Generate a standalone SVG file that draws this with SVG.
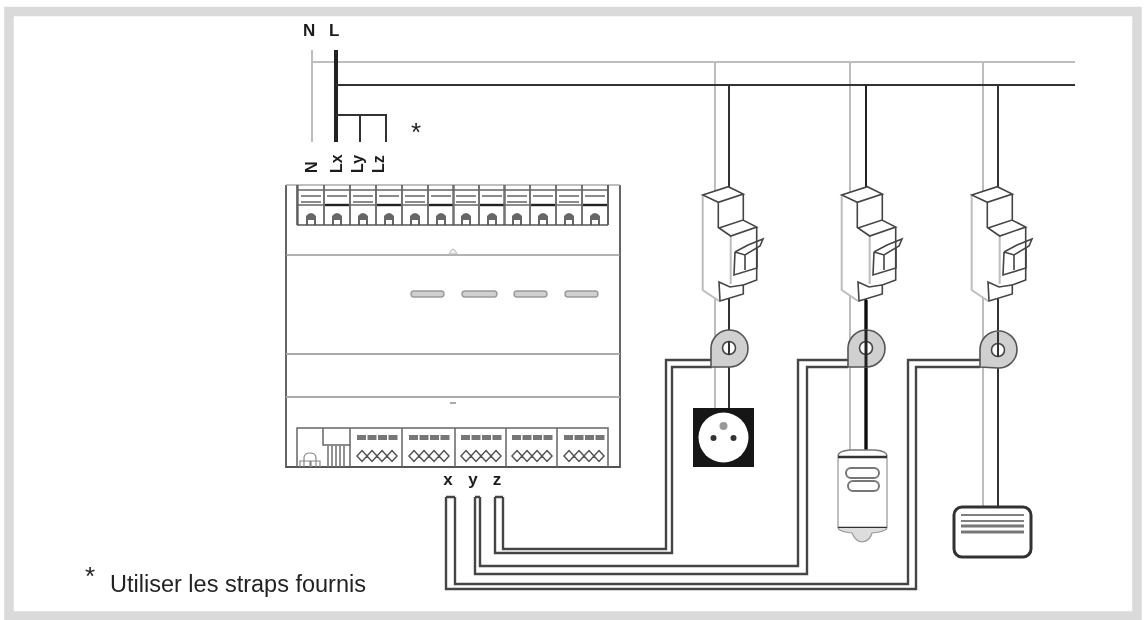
<svg xmlns="http://www.w3.org/2000/svg" xmlns:xlink="http://www.w3.org/1999/xlink" width="1146" height="620" viewBox="0 0 1146 620">
<style>
text{font-family:"Liberation Sans",Arial,sans-serif;fill:#222}
.b{font-weight:700;fill:#1a1a1a}
.g{fill:none;stroke:#bdbdbd;stroke-width:2}
.k{fill:none;stroke:#333;stroke-width:2}
.w{fill:none;stroke:#444;stroke-width:2.4}
.m{fill:none;stroke:#666;stroke-width:1.4}
.ml{fill:none;stroke:#999;stroke-width:1.6}
.d{fill:none;stroke:#444;stroke-width:1.6}
</style>
<defs>
<filter id="soft" filterUnits="userSpaceOnUse" x="0" y="0" width="1146" height="620"><feGaussianBlur stdDeviation="0.45"/></filter>
<g id="breaker">
<path d="M702.7 195L728.3 186.7L743.3 194V220L756.7 227V280L743.3 285V294L720 301L702.7 290Z" fill="#fff"/>
<path class="g" stroke-width="1.6" d="M702.7 195V290L719 301M730.7 236V284"/>
<path class="d" d="M702.7 195L728.3 186.7L743.3 194L718.3 202.3ZM718.3 202.3V228M743.3 194V220M719 228L743 220L756.7 227L730.7 236ZM756.7 227V280L743.3 285V294L720 301L719 282L730 287L743 285"/>
<path class="d" d="M735 252L748 245L763 239L760 246L745 255L735 252M735 252L734 275L757 268V248M745 255V270"/>
</g>
<g id="topcell">
<path class="m" d="M0 0V40M26 0V40M0 5H26M3 11H23M3 17H23M0 20H26"/>
<path d="M8 40V31Q13 25 18 31V40H16V35H10V40Z" fill="#666"/>
</g>
<g id="topcell2">
<path class="m" d="M0 0V40M26 0V40M0 5H26M3 11H23"/>
<path d="M1 20H25" stroke="#222" stroke-width="2.4"/>
<path d="M8 40V31Q13 25 18 31V40H16V35H10V40Z" fill="#666"/>
</g>
<g id="botcell">
<path d="M6 5.500H47" stroke="#777" stroke-width="5" stroke-dasharray="9 1.500"/>
<path class="m" d="M6 24H46"/>
<path d="M11 18.500L16 24L11 29.500L6 24ZM21 18.500L26 24L21 29.500L16 24ZM31 18.500L36 24L31 29.500L26 24ZM41 18.500L46 24L41 29.500L36 24Z" fill="#fff" stroke="#555" stroke-width="1.500"/>
</g>
</defs>
<rect width="1146" height="620" fill="#fff"/>
<g filter="url(#soft)">
<rect id="frame" x="9" y="11.500" width="1128" height="604.500" fill="none" stroke="#dadada" stroke-width="9.500"/>

<g id="connectors">
<path class="g" d="M312 50V142M312 62H1075M715 62V408M850 62V450M983 62V507"/>
<path d="M336 50V142" stroke="#222" stroke-width="4" fill="none"/>
<path class="k" d="M336 85H1075M336 115H386V142M360 115V142"/>
<path class="k" d="M729 85V408M998 85V507"/>
<path d="M866 85V450" fill="none" stroke="#222" stroke-width="2"/>
<path d="M866 300V450" fill="none" stroke="#111" stroke-width="3.400"/>
<path class="w" d="M503 497V549H666V360H712M495 497V553H672V367H712M495 497H503"/>
<path class="w" d="M480 497V566H798V360H848M475 497V574H807V367H848M475 497H480"/>
<path class="w" d="M455 497V584H908V360H980M446 497V589H916V367H980M446 497H455"/>
</g>

<g id="module">
<path d="M286 185V467H620V185" fill="#fff" stroke="#555" stroke-width="1.800"/>
<path d="M286 185H620" stroke="#aaa" stroke-width="1.500"/>
<path class="ml" d="M286 255H620"/>
<path d="M286 354H620M286 397H620" stroke="#aaa" stroke-width="2.200"/>
<path d="M449 254Q453 244 457 254Z" fill="#eee" stroke="#bbb"/>
<path d="M450 403H456" stroke="#aaa" stroke-width="2"/>
<g fill="#d0d0d0" stroke="#999" stroke-width="1.400">
<rect x="411" y="291" width="33" height="6" rx="3"/>
<rect x="462" y="291" width="35" height="6" rx="3"/>
<rect x="514" y="291" width="33" height="6" rx="3"/>
<rect x="565" y="291" width="33" height="6" rx="3"/>
</g>
<g id="terminals-top">
<use xlink:href="#topcell" href="#topcell" x="298" y="185"/>
<use xlink:href="#topcell2" href="#topcell2" x="324" y="185"/>
<use xlink:href="#topcell" href="#topcell" x="350" y="185"/>
<use xlink:href="#topcell2" href="#topcell2" x="376" y="185"/>
<use xlink:href="#topcell" href="#topcell" x="402" y="185"/>
<use xlink:href="#topcell2" href="#topcell2" x="428" y="185"/>
<use xlink:href="#topcell" href="#topcell" x="453" y="185"/>
<use xlink:href="#topcell2" href="#topcell2" x="479" y="185"/>
<use xlink:href="#topcell" href="#topcell" x="504" y="185"/>
<use xlink:href="#topcell2" href="#topcell2" x="530" y="185"/>
<use xlink:href="#topcell" href="#topcell" x="556" y="185"/>
<use xlink:href="#topcell2" href="#topcell2" x="582" y="185"/>
<path d="M297 225H608M297 185V225M608 185V225" fill="none" stroke="#555" stroke-width="1.600"/>
</g>
<g id="terminals-bottom">
<path d="M297 467V428H608V467M350 428V467M402 428V467M455 428V467M506 428V467M557 428V467" fill="none" stroke="#666" stroke-width="1.500"/>
<path d="M323 428V445H350" fill="none" stroke="#666" stroke-width="1.500"/>
<path d="M304 467V458Q304 453 310 453Q316 453 316 458V467M300 467V461H310V467M311 467V461H320V467" fill="none" stroke="#888" stroke-width="1.200"/>
<path d="M328 446V467M332 446V467M336 446V467M340 446V467M344 446V467" fill="none" stroke="#777" stroke-width="1.600"/>
<use xlink:href="#botcell" href="#botcell" x="351" y="432"/>
<use xlink:href="#botcell" href="#botcell" x="403" y="432"/>
<use xlink:href="#botcell" href="#botcell" x="455" y="432"/>
<use xlink:href="#botcell" href="#botcell" x="506" y="432"/>
<use xlink:href="#botcell" href="#botcell" x="558" y="432"/>
</g>
</g>

<g id="breaker1"><use xlink:href="#breaker" href="#breaker"/></g>
<g id="breaker2"><use xlink:href="#breaker" href="#breaker" x="139"/></g>
<g id="breaker3"><use xlink:href="#breaker" href="#breaker" x="269"/></g>

<g id="toroid1">
<path d="M711 367V348A18.500 18.500 0 1 1 729 367Z" fill="#d0d0d0" stroke="#555" stroke-width="1.600"/>
<circle cx="729" cy="348" r="6.500" fill="#fff" stroke="#444" stroke-width="1.600"/>
<path class="k" d="M729 341V355"/>
</g>
<g id="toroid2">
<path d="M848 367V348A18.500 18.500 0 1 1 866 367Z" fill="#d0d0d0" stroke="#555" stroke-width="1.600"/>
<circle cx="866" cy="348" r="6.500" fill="#fff" stroke="#444" stroke-width="1.600"/>
<path d="M866 330V367" stroke="#222" stroke-width="3"/>
</g>
<g id="toroid3">
<path d="M980 367V350A18.500 18.500 0 1 1 998 368Z" fill="#d0d0d0" stroke="#555" stroke-width="1.600"/>
<circle cx="998" cy="350" r="6.500" fill="#fff" stroke="#444" stroke-width="1.600"/>
<path class="k" d="M998 332V357"/>
</g>

<g id="socket">
<rect x="693" y="408" width="61" height="59" fill="#151515"/>
<circle cx="723.500" cy="437.500" r="25" fill="#fff"/>
<circle cx="723.500" cy="426" r="4" fill="#999"/>
<circle cx="713.500" cy="438" r="3" fill="#333"/>
<circle cx="733.500" cy="438" r="3" fill="#333"/>
</g>

<g id="lamp">
<path d="M838 456V528M887 456V528" stroke="#aaa" stroke-width="1.500" fill="none"/>
<path d="M838 456Q838 451 850 450H875Q887 451 887 456" fill="#fff" stroke="#777" stroke-width="1.500"/>
<path d="M838 457H887M838 528H887" stroke="#333" stroke-width="2.400"/>
<path d="M838 528Q840 532 852 533Q855 541 862 542Q870 541 872 533Q885 532 887 528" fill="#ddd" stroke="#999" stroke-width="1.200"/>
<rect x="846" y="468" width="33" height="10" rx="5" fill="none" stroke="#777" stroke-width="2"/>
<rect x="848" y="481" width="31" height="10" rx="5" fill="none" stroke="#777" stroke-width="2"/>
</g>

<g id="heater">
<rect x="954" y="507" width="77" height="50" rx="8" fill="#fff" stroke="#333" stroke-width="3"/>
<path d="M961 515H1024M961 521H1024" stroke="#555" stroke-width="1.600"/>
<path d="M961 526H1024M961 532H1024" stroke="#777" stroke-width="3"/>
</g>

<g id="labels">
<text class="b" x="303" y="36" font-size="17">N</text>
<text class="b" x="329" y="36" font-size="17">L</text>
<text class="b" transform="translate(317 173) rotate(-90)" font-size="16">N</text>
<text class="b" transform="translate(342 173) rotate(-90)" font-size="16">Lx</text>
<text class="b" transform="translate(363 173) rotate(-90)" font-size="16">Ly</text>
<text class="b" transform="translate(384 173) rotate(-90)" font-size="16">Lz</text>
<text x="416" y="141" font-size="26" text-anchor="middle">*</text>
<text class="b" x="448" y="485" font-size="17" text-anchor="middle">x</text>
<text class="b" x="473" y="485" font-size="17" text-anchor="middle">y</text>
<text class="b" x="497" y="485" font-size="17" text-anchor="middle">z</text>
<text x="90" y="585" font-size="26" text-anchor="middle">*</text>
<text x="110" y="592" font-size="23.500">Utiliser les straps fournis</text>
</g>
</g>
</svg>
